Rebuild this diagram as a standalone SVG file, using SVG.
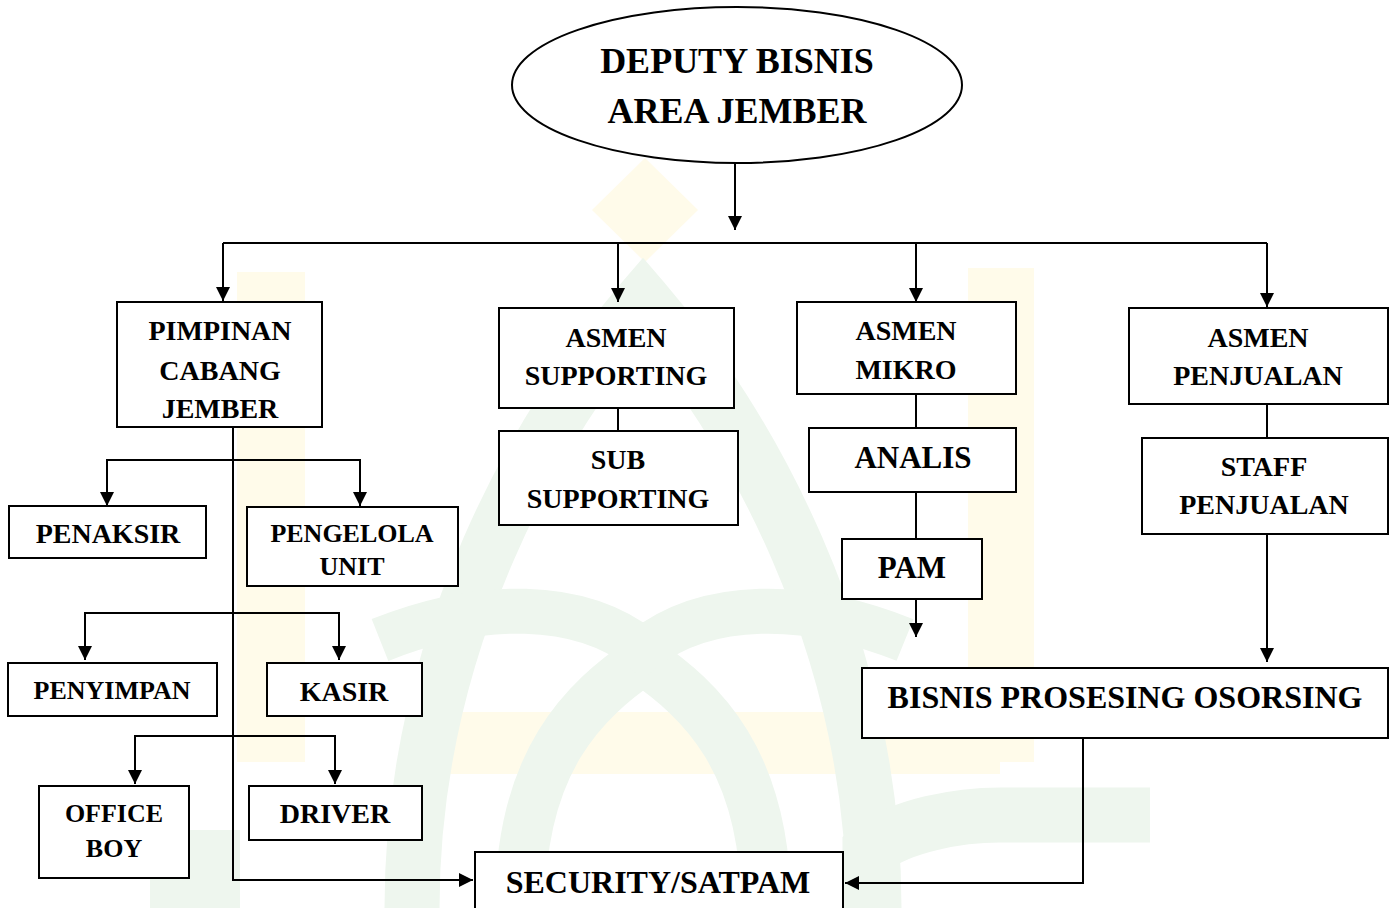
<svg xmlns="http://www.w3.org/2000/svg" width="1392" height="908" viewBox="0 0 1392 908">
  <style>
    .box { fill: #ffffff; stroke: #000000; stroke-width: 2; }
    .lbl { font-family: "Liberation Serif", "Times New Roman", serif; font-weight: bold; fill: #000000; text-anchor: middle; }
    .conn { fill: none; stroke: #000000; stroke-width: 2; }
    .wmY { fill: #fffbea; }
    .wmG { fill: none; stroke: #eef6ee; }
  </style>
  <defs>
    <marker id="arrow" viewBox="0 0 14 14" refX="14" refY="7" markerWidth="14" markerHeight="14" markerUnits="userSpaceOnUse" orient="auto">
      <path d="M0,0 L14,7 L0,14 z" fill="#000000"/>
    </marker>
  </defs>
  <rect x="0" y="0" width="1392" height="908" fill="#ffffff"/>

  <g id="watermark">
    <polygon class="wmY" points="645,158 698,210 645,262 592,210"/>
    <rect class="wmY" x="237" y="272" width="68" height="490"/>
    <rect class="wmY" x="968" y="268" width="66" height="494"/>
    <rect class="wmY" x="440" y="712" width="560" height="62"/>
    <path class="wmG" stroke-width="55" d="M412 908 C412 640 540 420 643 300 C746 420 874 640 874 908"/>
    <path class="wmG" stroke-width="50" d="M520 908 C520 760 585 700 643 660 C701 700 766 760 766 908"/>
    <path class="wmG" stroke-width="45" d="M380 640 C480 600 580 600 643 650 C706 600 806 600 905 640"/>
    <path class="wmG" stroke-width="55" d="M870 908 L870 850 C900 825 960 815 1000 815 L1150 815"/>
    <rect fill="#eef6ee" x="150" y="830" width="90" height="78"/>
  </g>

  <g id="connectors">
    <path class="conn" d="M735 163 V230" marker-end="url(#arrow)"/>
    <path class="conn" d="M223 243 H1267"/>
    <path class="conn" d="M223 243 V301" marker-end="url(#arrow)"/>
    <path class="conn" d="M618 243 V302" marker-end="url(#arrow)"/>
    <path class="conn" d="M916 243 V302" marker-end="url(#arrow)"/>
    <path class="conn" d="M1267 243 V307" marker-end="url(#arrow)"/>
    <path class="conn" d="M618 408 V431"/>
    <path class="conn" d="M916 394 V428"/>
    <path class="conn" d="M916 492 V539"/>
    <path class="conn" d="M916 599 V637" marker-end="url(#arrow)"/>
    <path class="conn" d="M1267 404 V438"/>
    <path class="conn" d="M1267 534 V662" marker-end="url(#arrow)"/>
    <path class="conn" d="M233 427 V880 H473" marker-end="url(#arrow)"/>
    <path class="conn" d="M233 460 H107 V506" marker-end="url(#arrow)"/>
    <path class="conn" d="M233 460 H360 V506" marker-end="url(#arrow)"/>
    <path class="conn" d="M233 613 H85 V660" marker-end="url(#arrow)"/>
    <path class="conn" d="M233 613 H339 V660" marker-end="url(#arrow)"/>
    <path class="conn" d="M233 736 H135 V784" marker-end="url(#arrow)"/>
    <path class="conn" d="M233 736 H335 V784" marker-end="url(#arrow)"/>
    <path class="conn" d="M1083 738 V883 H845" marker-end="url(#arrow)"/>
  </g>

  <g id="deputy">
    <ellipse class="box" cx="737" cy="85" rx="225" ry="78"/>
    <text class="lbl" x="737" y="73" font-size="36">DEPUTY BISNIS</text>
    <text class="lbl" x="737" y="123" font-size="36">AREA JEMBER</text>
  </g>

  <g id="pimpinan">
    <rect class="box" x="117" y="302" width="205" height="125"/>
    <text class="lbl" x="220" y="340" font-size="28">PIMPINAN</text>
    <text class="lbl" x="220" y="380" font-size="28">CABANG</text>
    <text class="lbl" x="220" y="418" font-size="28">JEMBER</text>
  </g>

  <g id="penaksir">
    <rect class="box" x="9" y="506" width="197" height="52"/>
    <text class="lbl" x="108" y="543" font-size="28">PENAKSIR</text>
  </g>

  <g id="pengelola">
    <rect class="box" x="247" y="507" width="211" height="79"/>
    <text class="lbl" x="352" y="542" font-size="26">PENGELOLA</text>
    <text class="lbl" x="352" y="575" font-size="26">UNIT</text>
  </g>

  <g id="penyimpan">
    <rect class="box" x="8" y="663" width="209" height="53"/>
    <text class="lbl" x="112" y="699" font-size="26">PENYIMPAN</text>
  </g>

  <g id="kasir">
    <rect class="box" x="267" y="663" width="155" height="53"/>
    <text class="lbl" x="344" y="701" font-size="28">KASIR</text>
  </g>

  <g id="officeboy">
    <rect class="box" x="39" y="786" width="150" height="92"/>
    <text class="lbl" x="114" y="822" font-size="26">OFFICE</text>
    <text class="lbl" x="114" y="857" font-size="26">BOY</text>
  </g>

  <g id="driver">
    <rect class="box" x="249" y="786" width="173" height="54"/>
    <text class="lbl" x="335" y="823" font-size="28">DRIVER</text>
  </g>

  <g id="asmen-supporting">
    <rect class="box" x="499" y="308" width="235" height="100"/>
    <text class="lbl" x="616" y="347" font-size="28">ASMEN</text>
    <text class="lbl" x="616" y="385" font-size="28">SUPPORTING</text>
  </g>

  <g id="sub-supporting">
    <rect class="box" x="499" y="431" width="239" height="94"/>
    <text class="lbl" x="618" y="469" font-size="28">SUB</text>
    <text class="lbl" x="618" y="508" font-size="28">SUPPORTING</text>
  </g>

  <g id="asmen-mikro">
    <rect class="box" x="797" y="302" width="219" height="92"/>
    <text class="lbl" x="906" y="340" font-size="28">ASMEN</text>
    <text class="lbl" x="906" y="379" font-size="28">MIKRO</text>
  </g>

  <g id="analis">
    <rect class="box" x="809" y="428" width="207" height="64"/>
    <text class="lbl" x="913" y="468" font-size="31">ANALIS</text>
  </g>

  <g id="pam">
    <rect class="box" x="842" y="539" width="140" height="60"/>
    <text class="lbl" x="912" y="578" font-size="31">PAM</text>
  </g>

  <g id="asmen-penjualan">
    <rect class="box" x="1129" y="308" width="259" height="96"/>
    <text class="lbl" x="1258" y="347" font-size="28">ASMEN</text>
    <text class="lbl" x="1258" y="385" font-size="28">PENJUALAN</text>
  </g>

  <g id="staff-penjualan">
    <rect class="box" x="1142" y="438" width="246" height="96"/>
    <text class="lbl" x="1264" y="476" font-size="28">STAFF</text>
    <text class="lbl" x="1264" y="514" font-size="28">PENJUALAN</text>
  </g>

  <g id="bisnis-prosesing">
    <rect class="box" x="862" y="668" width="526" height="70"/>
    <text class="lbl" x="1125" y="708" font-size="32">BISNIS PROSESING OSORSING</text>
  </g>

  <g id="security">
    <rect class="box" x="475" y="852" width="368" height="70"/>
    <text class="lbl" x="658" y="893" font-size="32">SECURITY/SATPAM</text>
  </g>
</svg>
